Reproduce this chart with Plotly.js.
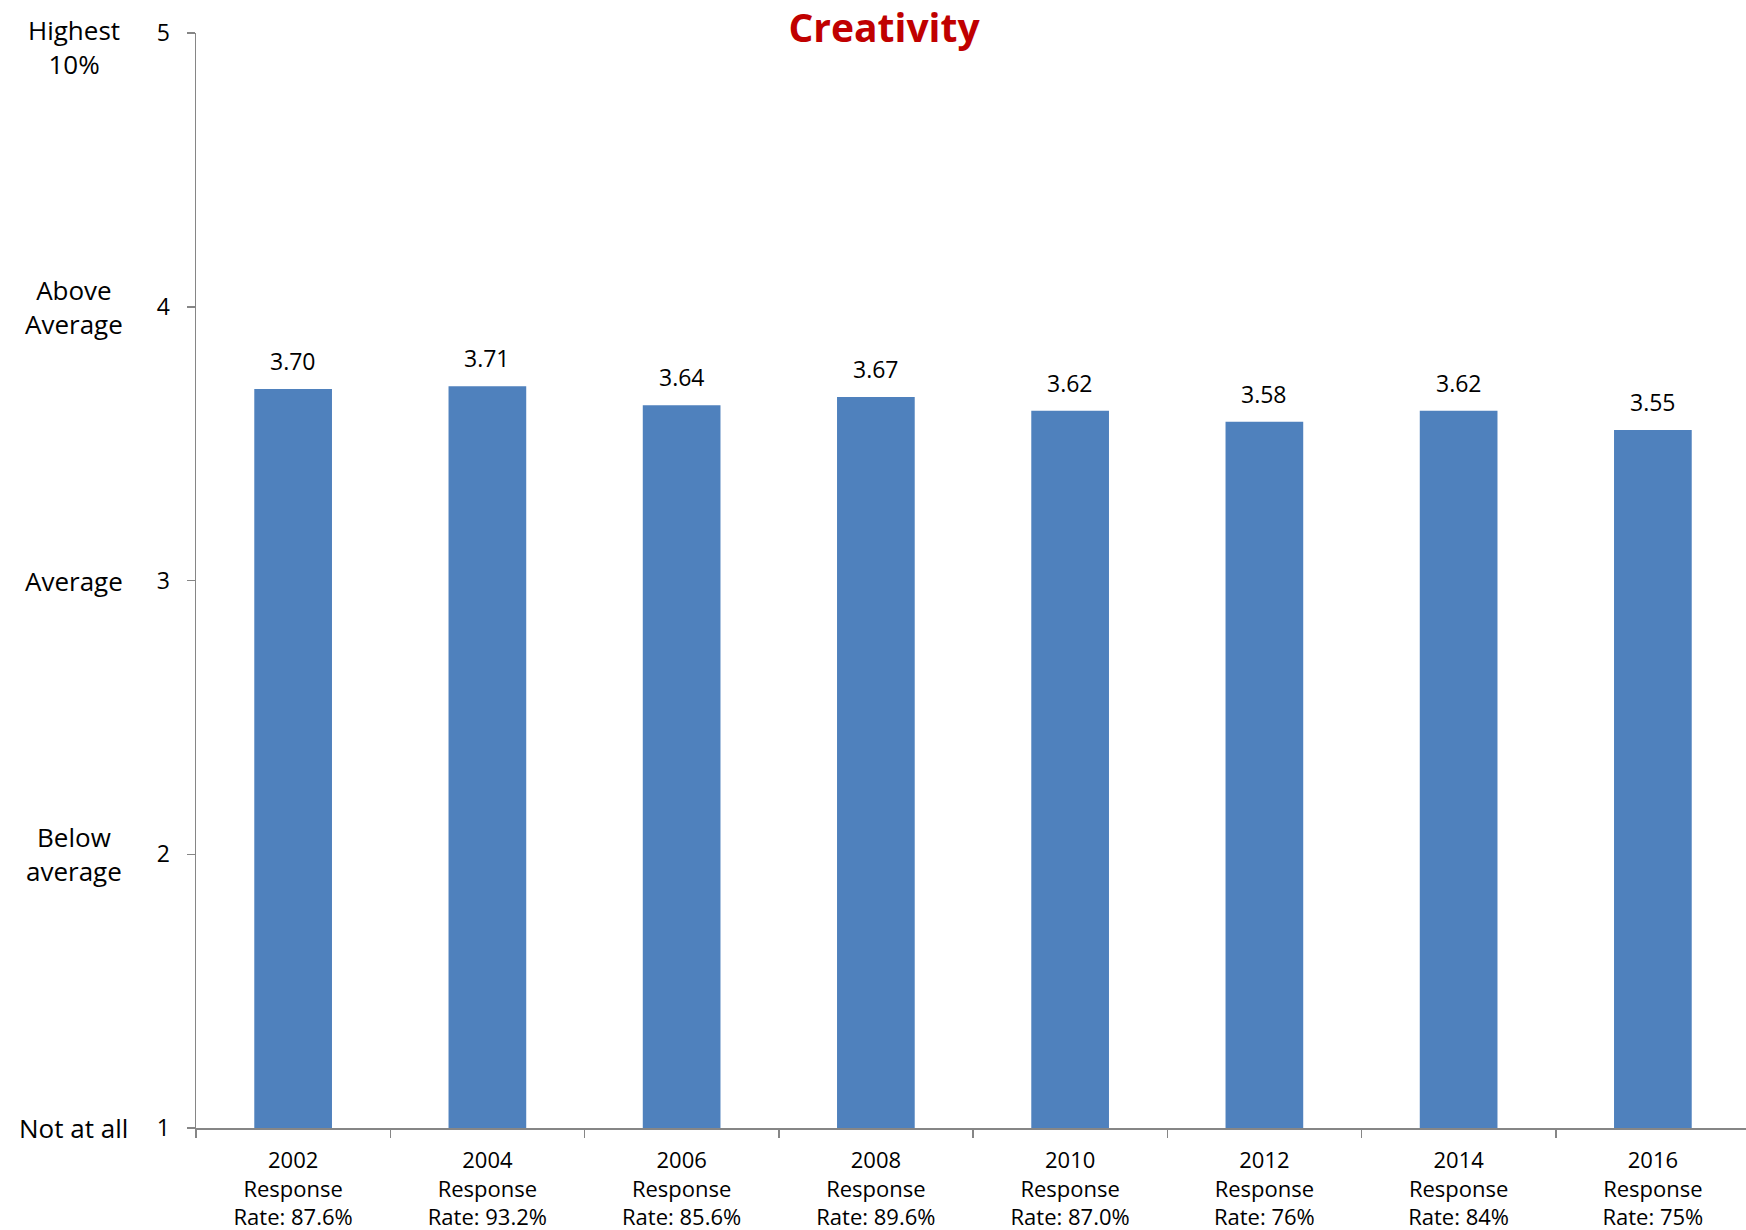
<!DOCTYPE html>
<html>
<head>
<meta charset="utf-8">
<script src="https://cdn.plot.ly/plotly-3.0.1.min.js"></script>
<style>html,body{margin:0;padding:0;background:#fff;overflow:hidden;}#chart{width:1750px;height:1230px;}</style>
</head>
<body>
<div id="chart"></div>
<script>
const years = ["2002", "2004", "2006", "2008", "2010", "2012", "2014", "2016"];
const responseRates = ["87.6%", "93.2%", "85.6%", "89.6%", "87.0%", "76%", "84%", "75%"];
const scores = [3.70, 3.71, 3.64, 3.67, 3.62, 3.58, 3.62, 3.55];
const scaleValues = [1, 2, 3, 4, 5];
const scaleLabels = ["Not at all", "Below<br>average", "Average", "Above<br>Average", "Highest<br>10%"];
const chartTitle = "Creativity";

const categories = years.map((y, i) => y + "<br>Response<br>Rate: " + responseRates[i]);
const FONT = "Open Sans, Liberation Sans, sans-serif";

const trace = {
  type: "bar",
  x: categories,
  y: scores,
  marker: {color: "#4F81BD"},
  hoverinfo: "none"
};

const valueAnnotations = scores.map((v, i) => ({
  x: categories[i], y: v, xref: "x", yref: "y",
  text: v.toFixed(2), showarrow: false,
  yanchor: "middle", yshift: 28,
  font: {family: FONT, size: 23, color: "#000"}
}));

const ml = 196, totalW = 1750, plotW = totalW - ml;
const labelCenterPx = 74;
const scaleAnnotations = scaleValues.map((v, i) => ({
  x: (labelCenterPx - ml) / plotW, xref: "paper", y: v, yref: "y",
  text: scaleLabels[i], showarrow: false, align: "center",
  xanchor: "center", yanchor: "middle",
  yshift: (i === scaleValues.length - 1) ? -14 : 0,
  font: {family: FONT, size: 26, color: "#000"}
}));

const layout = {
  width: totalW, height: 1230,
  margin: {l: ml, r: 0, t: 33, b: 102},
  paper_bgcolor: "#fff", plot_bgcolor: "#fff",
  showlegend: false,
  bargap: 0.6,
  title: {
    text: "<b>" + chartTitle + "</b>",
    x: 884 / totalW, xref: "container", xanchor: "center",
    y: 1 - 28 / 1230, yref: "container", yanchor: "middle",
    font: {family: FONT, size: 39, color: "#C00000"}
  },
  xaxis: {
    type: "category",
    showgrid: false, zeroline: false,
    showline: true, linecolor: "#868686", linewidth: 1.5,
    ticks: "outside", tickson: "boundaries", ticklen: 8, tickcolor: "#868686", tickwidth: 1.5,
    ticklabelstandoff: 12,
    tickfont: {family: FONT, size: 22, color: "#000"},
    fixedrange: true
  },
  yaxis: {
    range: [1, 5],
    tickvals: scaleValues,
    ticktext: scaleValues.map(String),
    showgrid: false, zeroline: false,
    showline: true, linecolor: "#868686", linewidth: 1.5,
    ticks: "outside", ticklen: 8, tickcolor: "#868686", tickwidth: 1.5,
    ticklabelstandoff: 12,
    tickfont: {family: FONT, size: 23, color: "#000"},
    fixedrange: true
  },
  annotations: valueAnnotations.concat(scaleAnnotations)
};

Plotly.newPlot("chart", [trace], layout, {displayModeBar: false, staticPlot: true});
</script>
</body>
</html>
